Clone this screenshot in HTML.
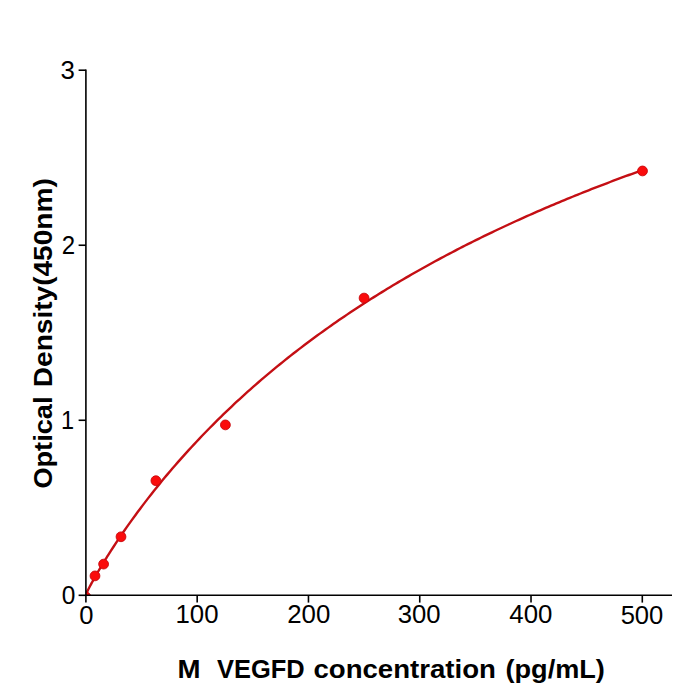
<!DOCTYPE html>
<html><head><meta charset="utf-8"><style>
html,body{margin:0;padding:0;background:#fff;}
body{width:700px;height:700px;overflow:hidden;}
svg{display:block;}
text{font-family:"Liberation Sans",sans-serif;}
</style></head><body>
<svg width="700" height="700" viewBox="0 0 700 700">
<rect width="700" height="700" fill="#fff"/>
<defs><clipPath id="ax"><rect x="85.9" y="0" width="620" height="595.3"/></clipPath></defs>
<g clip-path="url(#ax)">
<polyline points="85.90,594.45 86.02,594.15 86.13,593.88 86.25,593.61 86.37,593.35 86.49,593.10 86.60,592.85 86.72,592.60 86.84,592.35 86.95,592.11 87.07,591.87 87.19,591.63 87.31,591.39 87.42,591.15 87.54,590.91 87.66,590.68 87.77,590.44 87.89,590.21 88.01,589.97 88.13,589.74 88.13,589.74 88.64,588.73 89.15,587.74 89.67,586.76 90.18,585.78 90.69,584.82 91.21,583.87 91.72,582.92 92.23,581.98 92.75,581.05 93.26,580.12 93.78,579.20 94.29,578.28 94.80,577.37 95.32,576.47 95.83,575.56 96.34,574.67 96.86,573.78 97.37,572.89 97.88,572.01 98.40,571.13 98.91,570.26 99.42,569.38 99.94,568.52 100.45,567.65 100.97,566.80 101.48,565.94 101.99,565.09 102.51,564.24 103.02,563.39 103.53,562.55 104.05,561.71 104.56,560.87 105.07,560.04 105.59,559.21 106.10,558.38 106.62,557.56 107.13,556.74 107.64,555.92 108.16,555.10 108.16,555.10 110.84,550.88 113.52,546.74 116.21,542.65 118.89,538.63 121.58,534.68 124.26,530.77 126.94,526.92 129.63,523.13 132.31,519.38 135.00,515.69 137.68,512.04 140.37,508.43 143.05,504.87 145.73,501.36 148.42,497.88 151.10,494.45 153.79,491.05 156.47,487.70 159.15,484.38 161.84,481.10 164.52,477.85 167.21,474.64 169.89,471.47 172.58,468.32 175.26,465.21 177.94,462.14 180.63,459.09 183.31,456.08 186.00,453.09 188.68,450.14 191.36,447.21 194.05,444.32 196.73,441.45 199.42,438.61 202.10,435.79 204.79,433.01 207.47,430.25 210.15,427.51 212.84,424.80 215.52,422.12 218.21,419.46 220.89,416.82 223.57,414.21 226.26,411.62 228.94,409.06 231.63,406.51 234.31,403.99 236.99,401.49 239.68,399.02 242.36,396.56 245.05,394.12 247.73,391.71 250.42,389.32 253.10,386.94 255.78,384.59 258.47,382.25 261.15,379.94 263.84,377.64 266.52,375.36 269.20,373.10 271.89,370.86 274.57,368.64 277.26,366.43 279.94,364.25 282.63,362.08 285.31,359.92 287.99,357.79 290.68,355.67 293.36,353.56 296.05,351.47 298.73,349.40 301.41,347.35 304.10,345.30 306.78,343.28 309.47,341.27 312.15,339.27 314.83,337.29 317.52,335.33 320.20,333.38 322.89,331.44 325.57,329.52 328.26,327.61 330.94,325.71 333.62,323.83 336.31,321.96 338.99,320.11 341.68,318.27 344.36,316.44 347.04,314.62 349.73,312.82 352.41,311.03 355.10,309.25 357.78,307.48 360.47,305.73 363.15,303.99 365.83,302.26 368.52,300.54 371.20,298.83 373.89,297.14 376.57,295.46 379.25,293.78 381.94,292.12 384.62,290.47 387.31,288.83 389.99,287.20 392.67,285.59 395.36,283.98 398.04,282.38 400.73,280.79 403.41,279.22 406.10,277.65 408.78,276.09 411.46,274.55 414.15,273.01 416.83,271.48 419.52,269.97 422.20,268.46 424.88,266.96 427.57,265.47 430.25,263.99 432.94,262.52 435.62,261.06 438.31,259.61 440.99,258.16 443.67,256.73 446.36,255.30 449.04,253.88 451.73,252.47 454.41,251.07 457.09,249.68 459.78,248.30 462.46,246.92 465.15,245.55 467.83,244.19 470.51,242.84 473.20,241.50 475.88,240.16 478.57,238.83 481.25,237.51 483.94,236.20 486.62,234.90 489.30,233.60 491.99,232.31 494.67,231.03 497.36,229.75 500.04,228.48 502.72,227.22 505.41,225.97 508.09,224.72 510.78,223.48 513.46,222.25 516.15,221.02 518.83,219.80 521.51,218.59 524.20,217.38 526.88,216.18 529.57,214.99 532.25,213.80 534.93,212.62 537.62,211.45 540.30,210.28 542.99,209.12 545.67,207.97 548.36,206.82 551.04,205.68 553.72,204.54 556.41,203.41 559.09,202.28 561.78,201.17 564.46,200.05 567.14,198.95 569.83,197.85 572.51,196.75 575.20,195.66 577.88,194.58 580.56,193.50 583.25,192.43 585.93,191.36 588.62,190.30 591.30,189.24 593.99,188.19 596.67,187.15 599.35,186.11 602.04,185.07 604.72,184.04 607.41,183.02 610.09,182.00 612.77,180.98 615.46,179.97 618.14,178.97 620.83,177.97 623.51,176.98 626.20,175.99 628.88,175.00 631.56,174.02 634.25,173.05 636.93,172.08 639.62,171.11 642.30,170.15" fill="none" stroke="#c40f14" stroke-width="2.4" stroke-linejoin="round" stroke-linecap="round"/>
<g fill="#fa0c0c" stroke="#c8080c" stroke-width="0.9">
<circle cx="85.9" cy="596.9" r="4.9"/>
<circle cx="95.00" cy="575.90" r="4.9"/>
<circle cx="103.60" cy="564.10" r="4.9"/>
<circle cx="121.00" cy="536.80" r="4.9"/>
<circle cx="155.90" cy="480.70" r="4.9"/>
<circle cx="225.40" cy="424.90" r="4.9"/>
<circle cx="364.07" cy="298.07" r="4.9"/>
<circle cx="642.50" cy="170.95" r="4.9"/>
</g>
</g>
<g stroke="#000" stroke-width="1.6" stroke-linecap="butt">
<line x1="85.9" y1="69.41" x2="85.9" y2="596.0999999999999"/>
<line x1="85.10000000000001" y1="595.3" x2="672" y2="595.3"/>
<line x1="85.90" y1="595.3" x2="85.90" y2="602.5999999999999"/><line x1="197.18" y1="595.3" x2="197.18" y2="602.5999999999999"/><line x1="308.46" y1="595.3" x2="308.46" y2="602.5999999999999"/><line x1="419.74" y1="595.3" x2="419.74" y2="602.5999999999999"/><line x1="531.02" y1="595.3" x2="531.02" y2="602.5999999999999"/><line x1="642.30" y1="595.3" x2="642.30" y2="602.5999999999999"/><line x1="85.9" y1="595.30" x2="78.60000000000001" y2="595.30"/><line x1="85.9" y1="420.27" x2="78.60000000000001" y2="420.27"/><line x1="85.9" y1="245.24" x2="78.60000000000001" y2="245.24"/><line x1="85.9" y1="70.21" x2="78.60000000000001" y2="70.21"/>
</g>
<g fill="#000">
<text x="60.64" y="78.90" font-size="25.40" textLength="14.39" lengthAdjust="spacingAndGlyphs">3</text>
<text x="61.71" y="254.10" font-size="25.40" textLength="13.37" lengthAdjust="spacingAndGlyphs">2</text>
<text x="61.11" y="428.70" font-size="25.40" textLength="13.10" lengthAdjust="spacingAndGlyphs">1</text>
<text x="61.81" y="603.91" font-size="25.40" textLength="13.63" lengthAdjust="spacingAndGlyphs">0</text>
<text x="79.20" y="623.62" font-size="25.40" textLength="14.23" lengthAdjust="spacingAndGlyphs">0</text>
<text x="175.47" y="623.20" font-size="25.40" textLength="43.04" lengthAdjust="spacingAndGlyphs">100</text>
<text x="287.26" y="623.20" font-size="25.40" textLength="43.12" lengthAdjust="spacingAndGlyphs">200</text>
<text x="397.70" y="623.20" font-size="25.40" textLength="42.91" lengthAdjust="spacingAndGlyphs">300</text>
<text x="509.31" y="623.20" font-size="25.40" textLength="43.14" lengthAdjust="spacingAndGlyphs">400</text>
<text x="620.63" y="623.60" font-size="25.40" textLength="42.73" lengthAdjust="spacingAndGlyphs">500</text>
<text x="177.48" y="677.70" font-size="25.20" font-weight="bold" textLength="23.01" lengthAdjust="spacingAndGlyphs">M</text>
<text x="217.06" y="677.70" font-size="25.20" font-weight="bold" textLength="87.64" lengthAdjust="spacingAndGlyphs">VEGFD</text>
<text x="313.45" y="677.70" font-size="25.20" font-weight="bold" textLength="182.53" lengthAdjust="spacingAndGlyphs">concentration</text>
<text x="505.47" y="677.70" font-size="25.20" font-weight="bold" textLength="99.41" lengthAdjust="spacingAndGlyphs">(pg/mL)</text>
<text transform="translate(51.80,488.61) rotate(-90)" font-size="25.20" font-weight="bold" textLength="92.11" lengthAdjust="spacingAndGlyphs">Optical</text>
<text transform="translate(51.80,387.25) rotate(-90)" font-size="25.20" font-weight="bold" textLength="209.07" lengthAdjust="spacingAndGlyphs">Density(450nm)</text>
</g>
</svg>
</body></html>
